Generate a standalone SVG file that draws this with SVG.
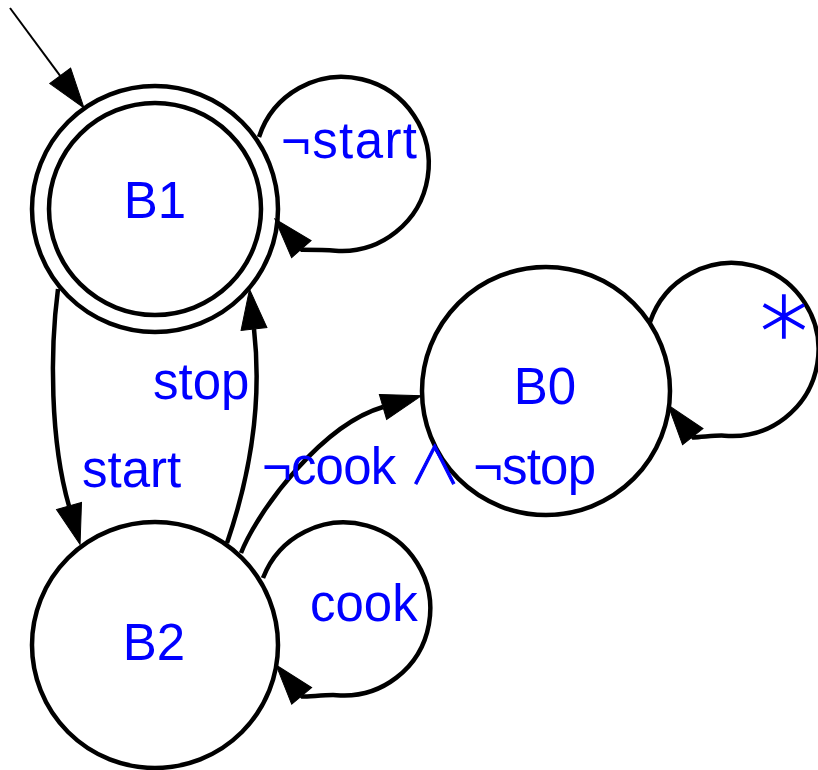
<svg xmlns="http://www.w3.org/2000/svg" width="818" height="770" viewBox="0 0 818 770">
<style>
.node{fill:#ffffff;stroke:#000000;stroke-width:4.5}
.edge{fill:none;stroke:#000000;stroke-width:4.5}
.init{fill:none;stroke:#000000;stroke-width:2}
.lbl{font-family:"Liberation Sans","DejaVu Sans",sans-serif;font-size:51px;fill:#0000ff}
.sym{font-family:"DejaVu Sans",sans-serif;stroke:#0000ff;stroke-width:1.6}
.wedge{font-family:"Noto Sans CJK JP","DejaVu Sans",sans-serif;font-weight:300;stroke:#0000ff;stroke-width:1}
.mid{text-anchor:middle}
</style>
<defs>
<marker id="ah" markerUnits="userSpaceOnUse" markerWidth="42" markerHeight="28" refX="0" refY="13" orient="auto" viewBox="0 0 42 26" overflow="visible">
<path d="M0,0 L40,13 L0,26 z" fill="#000000" stroke="#000000" stroke-width="1"/>
</marker>
</defs>
<rect width="818" height="770" fill="#ffffff"/>
<g id="B1">
<circle class="node" cx="155" cy="209" r="123"/>
<circle class="node" cx="155" cy="209" r="106"/>
<text class="lbl mid" x="155" y="218">B1</text>
</g>
<g id="B2">
<circle class="node" cx="155" cy="645" r="123"/>
<text class="lbl mid" x="154" y="660">B2</text>
</g>
<g id="B0">
<circle class="node" cx="546" cy="391" r="124"/>
<text class="lbl mid" x="545" y="404">B0</text>
</g>
<g id="connectors">
<path class="init" d="M10,8 L60.2,75.8" marker-end="url(#ah)"/>
<path class="edge" d="M259,137 A87,87 0 1,1 335.4,250.7 C327.4,250 309,249.8 302,249.8 l-0.66,-0.75" marker-end="url(#ah)"/>
<path class="edge" d="M58,289 C50,350 50,440 69,506" marker-end="url(#ah)"/>
<path class="edge" d="M227,543 C252,470 262,400 254,329" marker-end="url(#ah)"/>
<path class="edge" d="M241,553 C259,508 323,424.5 383,407" marker-end="url(#ah)"/>
<path class="edge" d="M263,578 A86.5,86.5 0 1,1 336.5,695.2 C328.5,694.5 310,696.6 302.3,696.6 l-0.64,-0.77" marker-end="url(#ah)"/>
<path class="edge" d="M650,322 A86.5,86.5 0 1,1 724.5,435.7 C716.5,435 701,437.4 693.4,437.4 l-0.62,-0.79" marker-end="url(#ah)"/>
</g>
<g id="labels">
<text class="lbl" x="281" y="158" textLength="136">¬start</text>
<text class="lbl" x="153" y="399">stop</text>
<text class="lbl" x="82" y="487">start</text>
<text class="lbl" x="262" y="484" textLength="334" lengthAdjust="spacing">¬cook <tspan class="wedge" font-size="52">∧</tspan> ¬stop</text>
<text class="lbl" x="310" y="621">cook</text>
<text class="lbl sym mid" x="784" y="365" style="font-size:95px;font-weight:300">*</text>
</g>
</svg>
